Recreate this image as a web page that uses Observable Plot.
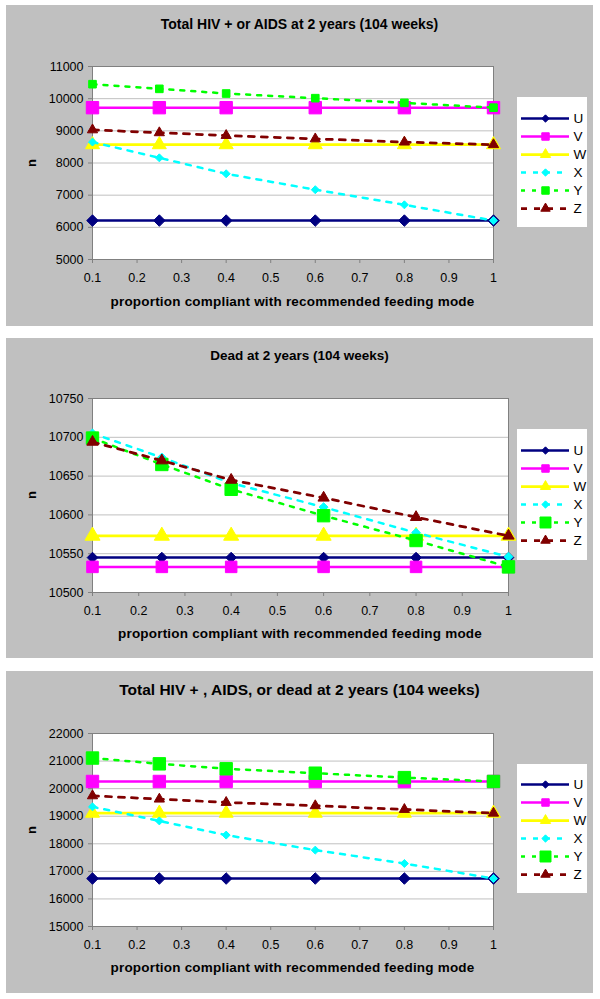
<!DOCTYPE html>
<html>
<head>
<meta charset="utf-8">
<script src="https://cdn.jsdelivr.net/npm/d3@7"></script>
<script src="https://cdn.jsdelivr.net/npm/@observablehq/plot@0.6"></script>
<style>
  body { margin: 0; background: #ffffff; font-family: "Liberation Sans", Arial, sans-serif; }
  #root { position: relative; width: 600px; height: 999px; }
  .panel { position: absolute; left: 6px; width: 587px; background: #c0c0c0; }
  .title { position: absolute; left: 0; width: 100%; text-align: center; font-weight: bold; line-height: 20px; height: 20px; white-space: nowrap; }
  .xlabel { position: absolute; text-align: center; font-weight: bold; font-size: 13.5px; letter-spacing: 0.2px; line-height: 18px; height: 18px; white-space: nowrap; }
  .ylabel { position: absolute; font-weight: bold; font-size: 13px; line-height: 14px; transform: translate(-50%, -50%) rotate(-90deg); }
  .legend { position: absolute; left: 511px; width: 70px; background: #ffffff; }
  .panel svg { overflow: visible; }
</style>
</head>
<body>
<div id="root"></div>
<script>
// ---------- data ----------
const proportion = [0.1, 0.25, 0.4, 0.6, 0.8, 1];
const seriesNames = ["U", "V", "W", "X", "Y", "Z"];
const xTicks = [0.1, 0.2, 0.3, 0.4, 0.5, 0.6, 0.7, 0.8, 0.9, 1];

// Panel 1: Total HIV + or AIDS at 2 years
const hivU = [6210, 6210, 6210, 6210, 6210, 6210];
const hivV = [9720, 9720, 9720, 9720, 9720, 9720];
const hivW = [8570, 8570, 8570, 8570, 8570, 8570];
const hivX = [8650, 8160, 7665, 7170, 6700, 6210];
const hivY = [10450, 10305, 10160, 10015, 9870, 9720];
const hivZ = [9030, 8940, 8855, 8750, 8650, 8570];
const hivTicks = [5000, 6000, 7000, 8000, 9000, 10000, 11000];

// Panel 2: Dead at 2 years
const deadU = [10545, 10545, 10545, 10545, 10545, 10545];
const deadV = [10533, 10533, 10533, 10533, 10533, 10533];
const deadW = [10573, 10573, 10573, 10573, 10573, 10573];
const deadX = [10705, 10674, 10641, 10610, 10577, 10546];
const deadY = [10699, 10665, 10633, 10599, 10567, 10533];
const deadZ = [10694, 10670, 10645, 10622, 10597, 10573];
const deadTicks = [10500, 10550, 10600, 10650, 10700, 10750];

// Panel 3: Total HIV +, AIDS, or dead at 2 years
const allU = [16740, 16740, 16740, 16740, 16740, 16740];
const allV = [20260, 20260, 20260, 20260, 20260, 20260];
const allW = [19110, 19110, 19110, 19110, 19110, 19110];
const allX = [19340, 18830, 18315, 17770, 17285, 16740];
const allY = [21110, 20900, 20720, 20560, 20400, 20260];
const allZ = [19740, 19620, 19500, 19380, 19245, 19110];
const allTicks = [15000, 16000, 17000, 18000, 19000, 20000, 21000, 22000];

const titles = [
  "Total HIV + or AIDS at 2 years (104 weeks)",
  "Dead at 2 years (104 weeks)",
  "Total HIV + , AIDS, or dead at 2 years (104 weeks)"
];
const xLabel = "proportion compliant with recommended feeding mode";
const yLabel = "n";

// ---------- styles ----------
const colors = { U: "#000080", V: "#ff00ff", W: "#ffff00", X: "#00ffff", Y: "#00ff00", Z: "#800000" };
const symbols = { U: "diamond2", V: "square", W: "triangle", X: "diamond2", Y: "square", Z: "triangle" };
const dashes = { U: null, V: null, W: null, X: "5,7", Y: "4,7", Z: "6,7" };
const widths = { U: 2.5, V: 2.5, W: 2.75, X: 2.5, Y: 2.5, Z: 2.75 };

const panels = [
  { top: 5, height: 321, mt: 61, mb: 67, mr: 100, domain: [5000, 11000], ticks: hivTicks,
    values: { U: hivU, V: hivV, W: hivW, X: hivX, Y: hivY, Z: hivZ },
    r: { U: 5.2, V: 7.0, W: 5.2, X: 3.6, Y: 4.3, Z: 3.8 },
    lr: { U: 3.3, V: 4.2, W: 3.8, X: 3.3, Y: 4.2, Z: 3.5 },
    titleSize: 14, titleY: 9, xlabelY: 288, legendTop: 92, legendH: 130 },
  { top: 338, height: 320, mt: 60, mb: 66, mr: 85, domain: [10500, 10750], ticks: deadTicks,
    values: { U: deadU, V: deadV, W: deadW, X: deadX, Y: deadY, Z: deadZ },
    r: { U: 4.8, V: 6.5, W: 5.6, X: 4.0, Y: 7.0, Z: 4.2 },
    lr: { U: 3.3, V: 4.2, W: 3.8, X: 3.3, Y: 6.2, Z: 3.5 },
    titleSize: 13.5, titleY: 8, xlabelY: 287, legendTop: 91, legendH: 131 },
  { top: 671, height: 322, mt: 62, mb: 67, mr: 100, domain: [15000, 22000], ticks: allTicks,
    values: { U: allU, V: allV, W: allW, X: allX, Y: allY, Z: allZ },
    r: { U: 5.2, V: 7.0, W: 5.2, X: 3.6, Y: 7.0, Z: 3.8 },
    lr: { U: 3.3, V: 4.2, W: 3.8, X: 3.3, Y: 6.2, Z: 3.5 },
    titleSize: 15.5, titleY: 9, xlabelY: 288, legendTop: 93, legendH: 129 }
];

const root = document.getElementById("root");
const W = 587, ML = 86;

panels.forEach((p, i) => {
  const div = document.createElement("div");
  div.className = "panel";
  div.style.top = p.top + "px";
  div.style.height = p.height + "px";
  root.appendChild(div);

  const marks = [
    Plot.frame({ fill: "white" }),
    Plot.gridY(p.ticks, { stroke: "#c0c0c0", strokeOpacity: 1 }),
    Plot.axisY(p.ticks, { tickSize: 4, tickPadding: 5, tickFormat: d => String(d), label: null, stroke: "#808080", fill: "black", fontSize: 12.5 }),
    Plot.axisX(xTicks, { tickSize: 4, tickPadding: 10, tickFormat: d => String(d), label: null, stroke: "#808080", fill: "black", fontSize: 12.5 }),
    Plot.frame({ stroke: "#808080" })
  ];
  seriesNames.forEach(s => {
    const data = proportion.map((x, k) => ({ x, y: p.values[s][k] }));
    marks.push(Plot.line(data, { x: "x", y: "y", stroke: colors[s], strokeWidth: widths[s], strokeDasharray: dashes[s] || undefined }));
    marks.push(Plot.dot(data, { x: "x", y: "y", symbol: symbols[s], r: p.r[s], fill: colors[s], stroke: colors[s], strokeWidth: 1 }));
  });

  const chart = Plot.plot({
    width: W, height: p.height,
    marginLeft: ML, marginRight: p.mr, marginTop: p.mt, marginBottom: p.mb,
    x: { domain: [0.1, 1] },
    y: { domain: p.domain },
    style: { background: "transparent", fontFamily: "'Liberation Sans', Arial, sans-serif", color: "black" },
    marks
  });
  chart.style.position = "absolute";
  chart.style.left = "0px";
  chart.style.top = "0px";
  div.appendChild(chart);

  const t = document.createElement("div");
  t.className = "title";
  t.style.top = p.titleY + "px";
  t.style.fontSize = p.titleSize + "px";
  t.textContent = titles[i];
  div.appendChild(t);

  const frameW = W - ML - p.mr;
  const xl = document.createElement("div");
  xl.className = "xlabel";
  xl.style.left = (ML - 60) + "px";
  xl.style.width = (frameW + 120) + "px";
  xl.style.top = p.xlabelY + "px";
  xl.textContent = xLabel;
  div.appendChild(xl);

  const yl = document.createElement("div");
  yl.className = "ylabel";
  yl.style.left = "26px";
  yl.style.top = (p.mt + (p.height - p.mt - p.mb) / 2) + "px";
  yl.textContent = yLabel;
  div.appendChild(yl);

  // legend
  const lmarks = [];
  seriesNames.forEach(s => {
    lmarks.push(Plot.ruleY([s], { y: d => d, x1: () => 4, x2: () => 52, stroke: colors[s], strokeWidth: widths[s], strokeDasharray: dashes[s] || undefined }));
    lmarks.push(Plot.dot([s], { y: d => d, x: () => 28, symbol: symbols[s], r: p.lr[s], fill: colors[s], stroke: colors[s], strokeWidth: 1 }));
  });
  lmarks.push(Plot.text(seriesNames, { y: d => d, x: () => 56, text: d => d, textAnchor: "start", fontSize: 13.5, fill: "black" }));
  const legend = Plot.plot({
    width: 70, height: p.legendH, margin: 0,
    x: { domain: [0, 70], range: [0, 70], axis: null },
    y: { type: "point", domain: seriesNames, range: [11, p.legendH - 10], axis: null },
    style: { background: "white", fontFamily: "'Liberation Sans', Arial, sans-serif", overflow: "visible" },
    marks: lmarks
  });
  const lg = document.createElement("div");
  lg.className = "legend";
  lg.style.top = p.legendTop + "px";
  lg.style.height = p.legendH + "px";
  lg.appendChild(legend);
  div.appendChild(lg);
});
</script>
</body>
</html>
